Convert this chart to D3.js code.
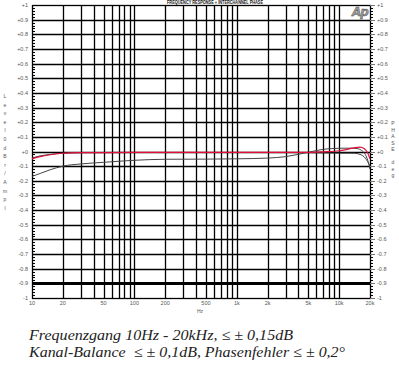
<!DOCTYPE html>
<html><head><meta charset="utf-8">
<script src="https://cdn.jsdelivr.net/npm/d3@7"></script>
<style>html,body{margin:0;padding:0;background:#fff;}svg{display:block;}</style>
</head><body>
<svg id="c" width="399" height="368"></svg>
<script>
const title = "FREQUENCY RESPONSE + INTERCHANNEL PHASE";
const xTickValues = [10, 20, 50, 100, 200, 500, 1000, 2000, 5000, 10000, 20000];
const xTickLabels = ["10", "20", "50", "100", "200", "500", "1k", "2k", "5k", "10k", "20k"];
const xGrid = [20,30,40,50,60,70,80,90,100,200,300,400,500,600,700,800,900,1000,2000,3000,4000,5000,6000,7000,8000,9000,10000];
const yTickValues = [1,0.9,0.8,0.7,0.6,0.5,0.4,0.3,0.2,0.1,0,-0.1,-0.2,-0.3,-0.4,-0.5,-0.6,-0.7,-0.8,-0.9,-1];
const yTickLabels = ["+1","+0.9","+0.8","+0.7","+0.6","+0.5","+0.4","+0.3","+0.2","+0.1","+0","-0.1","-0.2","-0.3","-0.4","-0.5","-0.6","-0.7","-0.8","-0.9","-1"];
const leftAxisLetters = ["L","e","v","e","l","0","d","B","r","/","A","m","p","l"];
const rightAxisLetters = ["P","H","A","S","E"," ","d","e","g"];

// series (frequency Hz, value)
const redFreq = [10,12,15,20,30,50,100,200,500,1000,2000,5000,7000,10000,12000,14000,16000,17500,19000,20000];
const redVal  = [-0.05,-0.035,-0.022,-0.012,-0.008,-0.007,-0.006,-0.006,-0.006,-0.006,-0.006,-0.006,-0.002,0.005,0.015,0.025,0.03,0.02,-0.01,-0.05];
const darkAFreq = [10,12,15,20,30,50,100,200,500,1000,2000,5000,7000,10000,14000,16000,18000,19000,20000];
const darkAVal  = [-0.045,-0.03,-0.02,-0.012,-0.008,-0.007,-0.007,-0.007,-0.007,-0.007,-0.007,-0.008,-0.01,-0.012,-0.012,-0.02,-0.045,-0.07,-0.1];
const darkBFreq = [10,12,15,20,30,50,100,200,500,1000,2000,3000,5000,7000,10000,13000,15000,16500,18000,19000,20000];
const darkBVal  = [-0.17,-0.15,-0.125,-0.1,-0.085,-0.074,-0.06,-0.053,-0.052,-0.05,-0.045,-0.035,-0.005,0.015,0.022,0.023,0.02,0.008,-0.02,-0.06,-0.12];
const caption1 = "Frequenzgang 10Hz - 20kHz, \u2264 \u00B1 0,15dB";
const caption2 = "Kanal-Balance  \u2264 \u00B1 0,1dB, Phasenfehler \u2264 \u00B1 0,2\u00B0";

const svg = d3.select("#c");
const L = 32, R = 370, T = 5, B = 298;
const x = d3.scaleLog().domain([10, 20000]).range([L, R]);
const y = d3.scaleLinear().domain([-1, 1]).range([B, T]);

// title
svg.append("text").attr("x", 215).attr("y", 4.3).attr("text-anchor", "middle")
  .attr("font-family", "Liberation Sans, Arial, sans-serif").attr("font-size", 5.2)
  .attr("font-weight", "bold").attr("fill", "#111")
  .attr("textLength", 96).attr("lengthAdjust", "spacingAndGlyphs").text(title);

const g = svg.append("g");
// vertical grid
g.selectAll(".vg").data(xGrid).join("line")
  .attr("x1", d => Math.round(x(d)) + 0.5).attr("x2", d => Math.round(x(d)) + 0.5)
  .attr("y1", T).attr("y2", B).attr("stroke", "#000").attr("stroke-width", 1.3);
// horizontal grid
g.selectAll(".hg").data(yTickValues.filter(v => Math.abs(v) < 0.95)).join("line")
  .attr("x1", L).attr("x2", R)
  .attr("y1", d => Math.round(y(d)) + 0.5).attr("y2", d => Math.round(y(d)) + 0.5)
  .attr("stroke", "#000").attr("stroke-width", d => Math.abs(d + 0.9) < 1e-6 ? 3 : 1.3);
// frame
g.append("rect").attr("x", L + 0.5).attr("y", T + 0.5).attr("width", R - L).attr("height", B - T)
  .attr("fill", "none").attr("stroke", "#000").attr("stroke-width", 1.3);

// minor ticks left (inside) and right (outside)
const minor = d3.range(-100, 101, 2).map(v => v / 100);
g.selectAll(".ml").data(minor).join("line")
  .attr("x1", L).attr("x2", d => L + (Math.abs(Math.round(d * 100)) % 10 === 0 ? 4 : 3))
  .attr("y1", d => Math.round(y(d)) + 0.5).attr("y2", d => Math.round(y(d)) + 0.5)
  .attr("stroke", "#000").attr("shape-rendering", "crispEdges");
g.selectAll(".mr").data(minor).join("line")
  .attr("x1", R).attr("x2", d => R + (Math.abs(Math.round(d * 100)) % 10 === 0 ? 5 : 3))
  .attr("y1", d => Math.round(y(d)) + 0.5).attr("y2", d => Math.round(y(d)) + 0.5)
  .attr("stroke", d => Math.abs(Math.round(d * 100)) % 10 === 0 ? "#777" : "#000")
  .attr("shape-rendering", "crispEdges");

// tick labels
const tf = "Liberation Sans, Arial, sans-serif";
svg.selectAll(".yl").data(yTickValues).join("text")
  .attr("x", 28).attr("y", d => y(d) + 2).attr("text-anchor", "end")
  .attr("font-family", tf).attr("font-size", 5.5).attr("fill", "#555")
  .text((d, i) => yTickLabels[i]);
svg.selectAll(".yr").data(yTickValues).join("text")
  .attr("x", 377).attr("y", d => y(d) + 2).attr("text-anchor", "start")
  .attr("font-family", tf).attr("font-size", 5.5).attr("fill", "#555")
  .text((d, i) => yTickLabels[i]);
svg.selectAll(".xl").data(xTickValues).join("text")
  .attr("x", d => x(d)).attr("y", 305).attr("text-anchor", "middle")
  .attr("font-family", tf).attr("font-size", 5.5).attr("fill", "#555")
  .text((d, i) => xTickLabels[i]);
svg.append("text").attr("x", 200).attr("y", 313).attr("text-anchor", "middle")
  .attr("font-family", tf).attr("font-size", 5).attr("fill", "#555").text("Hz");

// side axis letters
svg.selectAll(".la").data(leftAxisLetters).join("text")
  .attr("x", 5).attr("y", (d, i) => 98 + i * 8.6).attr("text-anchor", "middle")
  .attr("font-family", tf).attr("font-size", 5).attr("fill", "#555").text(d => d);
svg.selectAll(".ra").data(rightAxisLetters).join("text")
  .attr("x", 393).attr("y", (d, i) => 125 + i * 6.5).attr("text-anchor", "middle")
  .attr("font-family", tf).attr("font-size", 5).attr("fill", "#555").text(d => d);

// Ap logo
svg.append("text").attr("x", 360).attr("y", 16).attr("text-anchor", "middle")
  .attr("font-family", "DejaVu Sans, sans-serif").attr("font-style", "italic").attr("font-weight", "bold")
  .attr("font-size", 12).attr("fill", "#999").attr("stroke", "#444").attr("stroke-width", 0.4)
  .attr("letter-spacing", -1).text("Ap");

// curves
const line = d3.line().x(d => x(d[0])).y(d => y(d[1])).curve(d3.curveMonotoneX);
const mk = (f, v) => f.map((d, i) => [d, v[i]]);
svg.append("path").datum(mk(darkBFreq, darkBVal)).attr("d", line)
  .attr("fill", "none").attr("stroke", "#444").attr("stroke-width", 1);
svg.append("path").datum(mk(darkAFreq, darkAVal)).attr("d", line)
  .attr("fill", "none").attr("stroke", "#444").attr("stroke-width", 1);
svg.append("path").datum(mk(redFreq, redVal)).attr("d", line)
  .attr("fill", "none").attr("stroke", "#e0103a").attr("stroke-width", 1.2);

// caption
svg.append("text").attr("x", 29).attr("y", 340)
  .attr("font-family", "Liberation Serif, Times New Roman, serif").attr("font-style", "italic")
  .attr("font-size", 15).attr("fill", "#222")
  .attr("textLength", 264).attr("lengthAdjust", "spacingAndGlyphs").text(caption1);
svg.append("text").attr("x", 29).attr("y", 357)
  .attr("font-family", "Liberation Serif, Times New Roman, serif").attr("font-style", "italic")
  .attr("font-size", 15).attr("fill", "#222").style("white-space", "pre")
  .attr("textLength", 316).attr("lengthAdjust", "spacingAndGlyphs").text(caption2);
</script>
</body></html>
